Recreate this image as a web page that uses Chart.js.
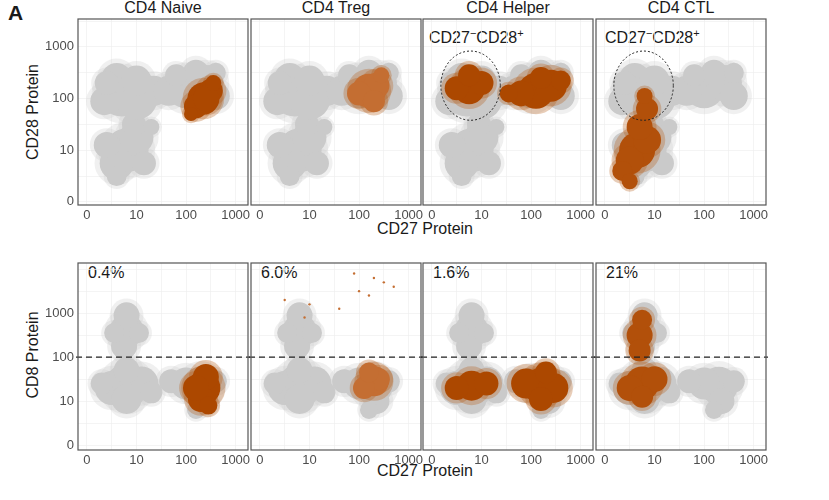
<!DOCTYPE html>
<html>
<head>
<meta charset="utf-8">
<script src="https://cdn.jsdelivr.net/npm/chart.js@4"></script>
<style>
  body { margin: 0; background: #fff; font-family: "Liberation Sans", Arial, sans-serif; }
  #wrap { position: relative; width: 829px; height: 500px; overflow: hidden; }
  canvas { position: absolute; }
  .t { position: absolute; color: #1a1a1a; white-space: nowrap; }
</style>
</head>
<body>
<div id="wrap">
  <div class="t" style="left:8px;top:1px;font-size:21px;font-weight:bold;">A</div>
  <div class="t" style="left:78px;width:170px;top:-1px;text-align:center;font-size:16px;">CD4 Naive</div>
  <div class="t" style="left:251px;width:170px;top:-1px;text-align:center;font-size:16px;">CD4 Treg</div>
  <div class="t" style="left:423px;width:170px;top:-1px;text-align:center;font-size:16px;">CD4 Helper</div>
  <div class="t" style="left:596px;width:170px;top:-1px;text-align:center;font-size:16px;">CD4 CTL</div>
  <div class="t" style="left:-22px;top:103px;width:110px;text-align:center;font-size:16px;transform:rotate(-90deg);">CD28 Protein</div>
  <div class="t" style="left:-22px;top:346px;width:110px;text-align:center;font-size:16px;transform:rotate(-90deg);">CD8 Protein</div>
  <div class="t" style="left:340px;width:170px;top:220px;text-align:center;font-size:16px;">CD27 Protein</div>
  <div class="t" style="left:340px;width:170px;top:462px;text-align:center;font-size:16px;">CD27 Protein</div>
  <div class="t" style="left:429px;top:27px;font-size:16px;">CD27<sup style="font-size:11px">−</sup>CD28<sup style="font-size:11px">+</sup></div>
  <div class="t" style="left:605px;top:27px;font-size:16px;">CD27<sup style="font-size:11px">−</sup>CD28<sup style="font-size:11px">+</sup></div>
  <div class="t" style="left:88px;top:264px;font-size:16px;">0.4%</div>
  <div class="t" style="left:261px;top:264px;font-size:16px;">6.0%</div>
  <div class="t" style="left:433px;top:264px;font-size:16px;">1.6%</div>
  <div class="t" style="left:606px;top:264px;font-size:16px;">21%</div>
</div>
<script>
// axis positions in decades: 0 -> "0", 1 -> "10", 2 -> "100", 3 -> "1000"
const tickValues = [0, 1, 2, 3];
const tickLabels = ['0', '10', '100', '1000'];

// blobs: [CD27 decade, CD28/CD8 decade, radius px]
const grayTop = [
  [0.8, 1.0, 22], [0.6, 0.75, 17], [1.0, 1.25, 17], [0.4, 1.1, 13], [1.15, 0.75, 12], [0.95, 1.5, 12], [0.6, 0.5, 10],
  [1.3, 1.45, 8],
  [0.7, 2.1, 23], [1.0, 2.0, 21], [0.35, 1.95, 14], [1.35, 2.15, 15], [0.6, 2.4, 15], [1.0, 2.35, 15], [0.4, 2.3, 12],
  [2.0, 2.2, 20], [2.4, 2.3, 18], [1.65, 2.15, 15], [2.6, 2.05, 14], [2.2, 2.5, 13], [2.6, 2.5, 10], [1.8, 2.45, 11]
];
const grayBottom = [
  [0.8, 1.35, 22], [0.5, 1.3, 17], [1.1, 1.4, 17], [0.8, 1.05, 15], [0.3, 1.4, 11], [1.3, 1.2, 11], [0.8, 1.7, 13],
  [0.8, 2.6, 17], [0.8, 2.95, 13], [0.75, 2.25, 13], [0.55, 2.55, 10], [1.05, 2.55, 10],
  [2.3, 1.35, 19], [2.0, 1.4, 16], [1.7, 1.45, 12], [2.35, 1.0, 13], [2.6, 1.45, 11], [2.2, 0.8, 9]
];
const naiveTop = [[2.35, 2.0, 16], [2.2, 1.85, 12], [2.5, 2.15, 12], [2.4, 2.0, 13], [2.1, 1.7, 7], [2.55, 2.3, 8]];
const tregTop = [[2.2, 2.15, 17], [2.35, 2.25, 13], [2.0, 2.1, 12], [2.3, 1.95, 11], [2.45, 2.45, 8]];
const helperTop = [[0.75, 2.2, 16], [0.5, 2.2, 12], [1.0, 2.3, 12], [0.75, 2.45, 11],
  [2.1, 2.15, 18], [2.4, 2.25, 16], [1.8, 2.1, 13], [2.6, 2.35, 10], [2.2, 2.4, 11], [1.55, 2.1, 9]];
const ctlTop = [[0.65, 1.0, 18], [0.5, 0.8, 14], [0.85, 1.2, 14], [0.35, 0.6, 10], [0.7, 1.45, 13], [0.5, 0.4, 8],
  [0.85, 1.8, 11], [0.8, 2.05, 8]];
const naiveBottom = [[2.35, 1.3, 17], [2.3, 1.05, 13], [2.4, 1.55, 13], [2.2, 1.3, 13], [2.45, 0.9, 9]];
const tregBottom = [[2.3, 1.45, 15], [2.4, 1.5, 11], [2.1, 1.3, 11], [2.2, 1.65, 10]];
const helperBottom = [[0.8, 1.35, 15], [0.5, 1.3, 12], [1.1, 1.4, 12],
  [2.2, 1.35, 18], [1.9, 1.4, 15], [2.45, 1.3, 15], [2.2, 1.05, 12], [2.3, 1.65, 11]];
const ctlBottom = [[0.75, 1.4, 17], [0.5, 1.3, 13], [1.0, 1.5, 13], [0.75, 1.1, 11],
  [0.7, 2.5, 13], [0.75, 2.85, 10], [0.7, 2.15, 11]];
// sparse scatter dots
const tregBottomDots = [[2.0, 3.5, 1.2], [2.3, 3.8, 1.2], [2.5, 3.7, 1.2], [1.0, 3.2, 1.2], [1.6, 3.1, 1.2],
  [2.7, 3.6, 1.2], [0.9, 2.9, 1.2], [2.2, 3.4, 1.2], [1.9, 3.9, 1.2], [0.5, 3.3, 1.2]];

const orangeColors = ['rgb(172,72,0)', 'rgb(196,110,50)', 'rgb(172,72,0)', 'rgb(178,80,10)'];
const gate = { x: 0.78, y: 2.25, rx: 0.6, ry: 0.67 };

const panelLefts = [78, 251, 423, 596];
const rows = [
  { top: 19, h: 186, ymin: -0.06, ymax: 3.54, gray: grayTop, orange: [naiveTop, tregTop, helperTop, ctlTop], dots: [[], [], [], []] },
  { top: 263, h: 187, ymin: -0.11, ymax: 4.14, gray: grayBottom, orange: [naiveBottom, tregBottom, helperBottom, ctlBottom], dots: [[], tregBottomDots, [], []] }
];

const toPts = (arr, k = 1) => arr.map(p => ({ x: p[0], y: p[1], r: p[2] * k }));

const panelPlugin = {
  id: 'panel',
  afterDraw(chart) {
    const { ctx, chartArea: a, scales } = chart;
    const o = chart.options.plugins.panel;
    ctx.save();
    if (o.gate) {
      ctx.beginPath();
      const cx = scales.x.getPixelForValue(gate.x), cy = scales.y.getPixelForValue(gate.y);
      const rx = Math.abs(scales.x.getPixelForValue(gate.x + gate.rx) - cx);
      const ry = Math.abs(scales.y.getPixelForValue(gate.y + gate.ry) - cy);
      ctx.ellipse(cx, cy, rx, ry, 0, 0, Math.PI * 2);
      ctx.setLineDash([2, 2]); ctx.strokeStyle = '#222'; ctx.lineWidth = 1; ctx.stroke();
    }
    if (o.threshold) {
      const y = scales.y.getPixelForValue(2);
      ctx.beginPath(); ctx.moveTo(a.left - 2, y); ctx.lineTo(a.right + 2, y);
      ctx.setLineDash([6, 4]); ctx.strokeStyle = '#222'; ctx.lineWidth = 1.3; ctx.stroke();
    }
    ctx.setLineDash([]);
    ctx.strokeStyle = '#555'; ctx.lineWidth = 1.2;
    ctx.strokeRect(a.left, a.top, a.right - a.left, a.bottom - a.top);
    ctx.fillStyle = '#4d4d4d'; ctx.font = '13px "Liberation Sans", Arial';
    ctx.textAlign = 'center'; ctx.textBaseline = 'top';
    tickValues.forEach((v, i) => ctx.fillText(tickLabels[i], scales.x.getPixelForValue(v), a.bottom + 4));
    if (o.yLabels) {
      ctx.textAlign = 'right'; ctx.textBaseline = 'middle';
      tickValues.forEach((v, i) => ctx.fillText(tickLabels[i], a.left - 4, scales.y.getPixelForValue(v)));
    }
    ctx.restore();
  }
};

const wrap = document.getElementById('wrap');
rows.forEach((row, r) => {
  panelLefts.forEach((left, c) => {
    const cv = document.createElement('canvas');
    const padL = 40, padT = 4, padB = 22, padR = 10;
    cv.style.left = (left - padL) + 'px';
    cv.style.top = (row.top - padT) + 'px';
    cv.style.width = (170 + padL + padR) + 'px';
    cv.style.height = (row.h + padT + padB) + 'px';
    cv.width = 170 + padL + padR; cv.height = row.h + padT + padB;
    wrap.appendChild(cv);
    const gridOpts = { color: '#efefef', lineWidth: 0.7, drawTicks: false };
    const minor = s => { s.ticks = [0, 0.5, 1, 1.5, 2, 2.5, 3, 3.5, 4].filter(v => v >= s.min && v <= s.max).map(v => ({ value: v })); };
    new Chart(cv, {
      type: 'bubble',
      data: {
        datasets: [
          // lower order is drawn on top
          { data: toPts(row.gray, 1.3), backgroundColor: 'rgba(205,205,205,0.3)', borderWidth: 0, order: 6 },
          { data: toPts(row.gray), backgroundColor: 'rgb(202,202,202)', borderWidth: 0, order: 5 },
          { data: toPts(row.orange[c], 1.3), backgroundColor: 'rgba(180,90,20,0.3)', borderWidth: 0, order: 4 },
          { data: toPts(row.orange[c]), backgroundColor: orangeColors[c], borderWidth: 0, order: 3 },
          { data: toPts(row.dots[c]), backgroundColor: 'rgb(196,110,50)', borderWidth: 0, order: 2 }
        ]
      },
      options: {
        responsive: false, animation: false,
        layout: { autoPadding: false, padding: { left: padL, top: padT, bottom: padB, right: padR } },
        plugins: {
          legend: { display: false }, tooltip: { enabled: false },
          panel: { yLabels: c === 0, gate: r === 0 && c >= 2, threshold: r === 1 }
        },
        scales: {
          x: { type: 'linear', min: -0.18, max: 3.25, afterBuildTicks: minor,
               ticks: { display: false }, grid: gridOpts, border: { display: false } },
          y: { type: 'linear', min: row.ymin, max: row.ymax, afterBuildTicks: minor,
               ticks: { display: false }, grid: gridOpts, border: { display: false } }
        }
      },
      plugins: [panelPlugin]
    });
  });
});
</script>
</body>
</html>
